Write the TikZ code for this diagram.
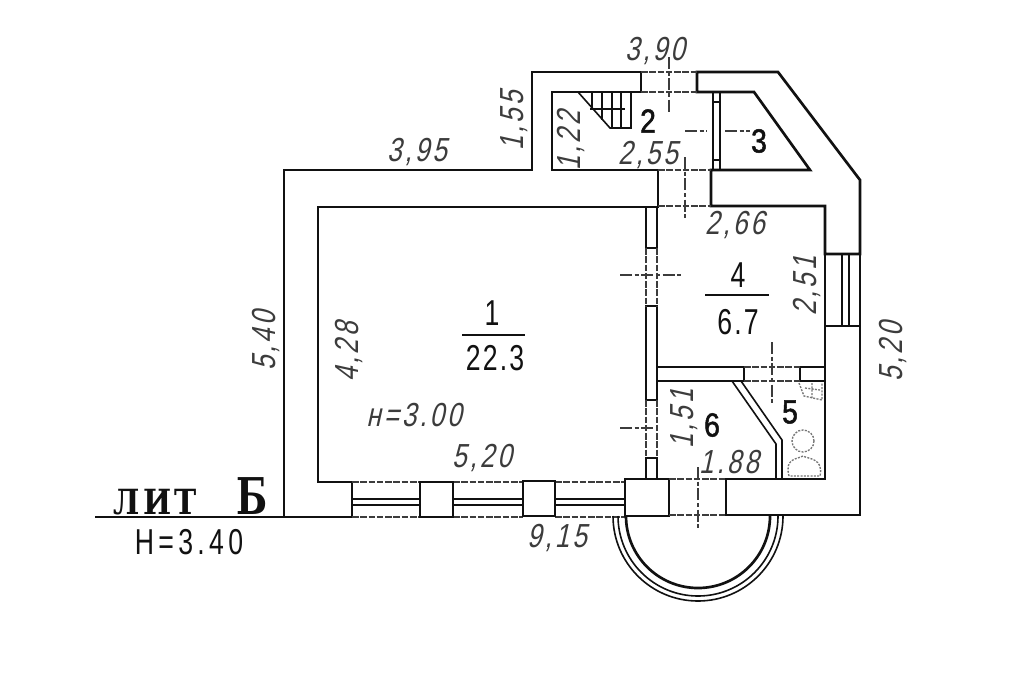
\documentclass[tikz,border=0pt]{standalone}
\usepackage{fontspec}
\setmainfont{Liberation Sans}
\newfontfamily\dimfont[LetterSpace=9,FakeSlant=0.22,FakeStretch=0.78]{Liberation Sans}
\newfontfamily\numfont[LetterSpace=6,FakeStretch=0.74]{Liberation Sans}
\newfontfamily\hfont[LetterSpace=12,FakeStretch=0.74]{Liberation Sans}
\newfontfamily\numboldfont[LetterSpace=4,FakeStretch=0.85,FakeBold=1.5]{Liberation Sans}
\newfontfamily\litfont[LetterSpace=10,FakeStretch=0.86]{DejaVu Serif Bold}
\newfontfamily\litbfont[FakeStretch=0.72]{DejaVu Serif Bold}
\definecolor{ink}{HTML}{111111}
\definecolor{dimink}{HTML}{3C3C3C}
\tikzset{
  wall/.style={draw=ink,line width=2pt,line join=miter},
  partition/.style={draw=ink,line width=1.7pt,line join=miter},
  thin wall/.style={draw=ink,line width=1.2pt},
  opening/.style={draw=dimink,line width=1pt,dash pattern=on 5pt off 1.2pt},
  dimtick/.style={draw=dimink,line width=1pt,dash pattern=on 9pt off 2pt on 3pt off 2pt},
  fixture/.style={draw=dimink!70,line width=1pt,dash pattern=on 1.5pt off 1pt},
  dimlabel/.style={text=dimink,font=\dimfont\fontsize{25}{27}\selectfont,inner sep=0pt},
  dimup/.style={dimlabel,rotate=90},
  roomno/.style={text=ink,font=\numfont\fontsize{27}{30}\selectfont,inner sep=0pt},
  roomboldno/.style={text=ink,font=\numboldfont\fontsize{25}{28}\selectfont,inner sep=0pt},
  areabar/.style={draw=ink,line width=1.2pt}
}
\begin{document}
\begin{tikzpicture}[x=0.75pt,y=-0.75pt]
\useasboundingbox (0,0) rectangle (1034,676);
\fill[white] (0,0) rectangle (1034,676);
% outer walls
\draw[wall] (95,517) -- (352,517) -- (352,482) -- (318,482) -- (318,207) -- (658,207) -- (658,170) -- (552,170) -- (552,92) -- (641,92) -- (641,72) -- (532,72) -- (532,170) -- (284,170) -- (284,517);
\draw[wall] (697,72) -- (778,72) -- (860,180) -- (860,254) -- (825,254) -- (825,206) -- (711,206) -- (711,170) -- (810,170) -- (754,92) -- (697,92) -- cycle;
% east wall below window
\draw[wall] (825,326) -- (860,326) -- (860,515) -- (726,515) -- (726,479) -- (825,479) -- cycle;
% window east
\draw[thin wall] (825,254) -- (825,326) (860,254) -- (860,326) (842,254) -- (842,326) (849,254) -- (849,326);
% windows south
\draw[opening] (352,482) -- (420,482) (453,482) -- (523,482) (555,482) -- (625,482);
\draw[opening] (352,517) -- (420,517) (453,517) -- (523,517) (555,517) -- (625,517);
\draw[thin wall] (352,499) -- (420,499) (453,499) -- (523,499) (555,499) -- (625,499);
\draw[thin wall] (352,505) -- (420,505) (453,505) -- (523,505) (555,505) -- (625,505);
\draw[wall] (420,482) rectangle (453,517);
\draw[wall] (523,481) rectangle (555,516);
\draw[wall] (625,479) rectangle (669,516);
% door openings
\draw[opening] (641,72) -- (697,72) (641,92) -- (697,92);
\draw[opening] (658,170) -- (711,170) (658,206) -- (711,206);
\draw[opening] (669,479) -- (726,479) (669,515) -- (726,515);
% wall 1 / 4
\draw[partition] (646,207) -- (646,248) -- (657,248) -- (657,207);
\draw[partition] (646,306) rectangle (657,400);
\draw[opening] (646,248) -- (646,306) (657,248) -- (657,306);
\draw[opening] (646,400) -- (646,458) (657,400) -- (657,458);
\draw[partition] (646,479) -- (646,458) -- (657,458) -- (657,479);
% wall 4 / 6
\draw[partition] (657,367) -- (744,367) -- (744,381) -- (657,381);
\draw[partition] (825,367) -- (800,367) -- (800,381) -- (825,381);
\draw[opening] (744,367) -- (800,367) (744,381) -- (800,381);
% partition 5 / 6
\draw[thin wall] (732,381) -- (776,444) -- (776,479);
\draw[thin wall] (741,381) -- (782,440) -- (782,479);
% partition 2 / 3
\draw[thin wall] (713,92) -- (713,170) (720,92) -- (720,170) (713,102) -- (720,102) (713,160) -- (720,160);
% stairs
\draw[thin wall] (578,92) -- (610,128) -- (631,128) -- (631,92);
\draw[thin wall] (592,92) -- (592,108) (602,92) -- (602,120) (612,92) -- (612,128) (621,92) -- (621,128) (590,109) -- (625,109);
% bay arcs
\draw[thin wall] (783,516) arc[start angle=0,end angle=180,radius=85];
\draw[thin wall] (778,516) arc[start angle=0,end angle=180,radius=80];
\draw[wall] (770,516) arc[start angle=0,end angle=180,radius=72];
% fixtures
\draw[fixture] (799,383) -- (804,396) -- (822,400) -- (822,383) (805,388) -- (820,390) (812,383) -- (812,398);
\draw[fixture] (803,441) ellipse[x radius=11,y radius=11];
\draw[fixture] (789,476) .. controls (784,458) and (798,459) .. (803,456) .. controls (808,459) and (824,458) .. (820,476) -- cycle;
% dimension ticks
\draw[dimtick] (669,57) -- (669,113);
\draw[dimtick] (685,157) -- (685,220);
\draw[dimtick] (685,131) -- (707,131);
\draw[dimtick] (725,131) -- (750,131);
\draw[dimtick] (620,275) -- (683,275);
\draw[dimtick] (620,428) -- (657,428);
\draw[dimtick] (772,342) -- (772,405);
\draw[dimtick] (698,467) -- (698,530);
% area bars
\draw[areabar] (462,335) -- (525,335);
\draw[areabar] (705,295) -- (769,295);
% dimension labels
\node[dimlabel] (d390) at (655,51) {3,90};
\node[dimlabel] (d395) at (417,152) {3,95};
\node[dimup] (d155) at (514,121) {1,55};
\node[dimup] (d122) at (571,141) {1,22};
\node[dimlabel] (d255) at (648,155) {2,55};
\node[dimlabel] (d266) at (735,225) {2,66};
\node[dimup] (d251) at (807,286) {2,51};
\node[dimup] (d520r) at (893,352) {5,20};
\node[dimup] (d540) at (266,341) {5,40};
\node[dimup] (d428) at (349,352) {4,28};
\node[dimlabel] (dh) at (414,415) {н=3.00};
\node[dimlabel] (d520) at (482,458) {5,20};
\node[dimup] (d151) at (684,419) {1,51};
\node[dimlabel] (d188) at (729,462) {1.88};
\node[dimlabel] (d915) at (557,538) {9,15};
% room numbers
\node[roomno] (r1) at (492,313) {1};
\node[roomno] (a1) at (495,358) {22.3};
\node[roomboldno] (r2) at (648,121) {2};
\node[roomboldno] (r3) at (759,141) {3};
\node[roomno] (r4) at (738,275) {4};
\node[roomno] (a4) at (738,322) {6.7};
\node[roomboldno] (r5) at (790,412) {5};
\node[roomboldno] (r6) at (712,425) {6};
% title
\node[inner sep=0pt,text=ink,anchor=base west,font=\litfont\fontsize{26}{30}\selectfont] (lit) at (113,514) {ЛИТ};
\node[inner sep=0pt,text=ink,anchor=base west,font=\litbfont\fontsize{38}{40}\selectfont] (litb) at (236,514) {Б};
\node[inner sep=0pt,text=ink,font=\hfont\fontsize{27}{30}\selectfont] (hh) at (189,542) {H=3.40};
\end{tikzpicture}
\end{document}
